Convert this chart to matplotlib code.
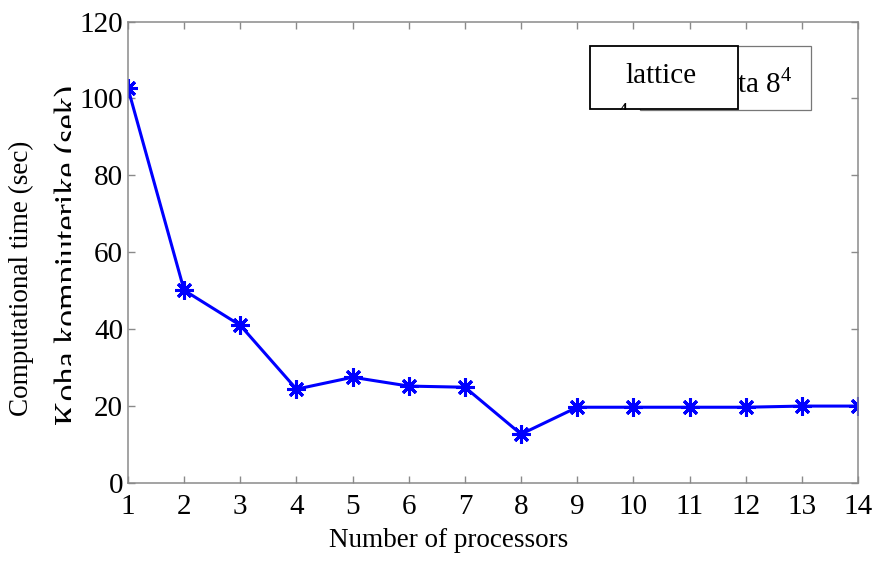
import matplotlib
matplotlib.use("Agg")
import matplotlib.pyplot as plt
from matplotlib.patches import Rectangle

# data
processors = [1, 2, 3, 4, 5, 6, 7, 8, 9, 10, 11, 12, 13, 14]
comp_time = [102.6, 50.1, 41.0, 24.4, 27.5, 25.2, 24.9, 12.7, 19.7, 19.7, 19.7, 19.7, 20.0, 20.0]
y_ticks = [0, 20, 40, 60, 80, 100, 120]

W, H = 874, 564
plt.rcParams["font.family"] = ["Liberation Serif", "DejaVu Serif"]
plt.rcParams["mathtext.fontset"] = "custom"
plt.rcParams["mathtext.rm"] = "Liberation Serif"

fig = plt.figure(figsize=(W / 100, H / 100), dpi=100)


def fx(px):
    return px / W


def fy(py):
    # picture rows are counted from the top
    return 1 - py / H


def white_box(x0, y0, x1, y1, z):
    # plain white patch in picture pixels, used to hide parts of old text
    fig.patches.append(Rectangle((fx(x0), fy(y1)), fx(x1) - fx(x0), fy(y0) - fy(y1),
                                 transform=fig.transFigure, facecolor="white",
                                 edgecolor="none", zorder=z))


ax = fig.add_axes([fx(128), fy(483), fx(858) - fx(128), fy(21.5) - fy(483)])

ax.plot(processors, comp_time, color="#0000ff", lw=2.2,
        marker=(8, 2, 0), markersize=13, markeredgewidth=2.2)

ax.set_xlim(1, 14)
ax.set_ylim(0, 120)
ax.set_xticks(processors)
ax.set_yticks(y_ticks)
for sp in ax.spines.values():
    sp.set_color("#8a8a8a")
    sp.set_linewidth(1.1)
ax.tick_params(direction="in", length=5, width=1, color="#8a8a8a",
               labelsize=21, top=True, right=True)
ax.tick_params(axis="x", pad=8)
ax.tick_params(axis="y", pad=3.5)

# axis labels
fig.text(fx(449), fy(547), "Number of processors", fontsize=19.5,
         ha="center", va="baseline")
fig.text(fx(28), fy(278), "Computational time (sec)", fontsize=19.5,
         rotation=90, rotation_mode="anchor", ha="center", va="baseline")

# older label left under the new one, its right part covered
fig.text(fx(78), fy(255), "Koha kompjuterike (sek)", fontsize=24.5,
         rotation=90, rotation_mode="anchor", ha="center", va="baseline", zorder=-3)
white_box(71, 60, 127, 450, -2)

# legend box underneath
fig.patches.append(Rectangle((fx(640), fy(110)), fx(811) - fx(640), fy(46) - fy(110),
                             transform=fig.transFigure, facecolor="white",
                             edgecolor="#777777", lw=0.9, zorder=10))
fig.text(fx(687), fy(92), r"Rrjeta 8$^{\mathrm{4}}$", fontsize=21,
         ha="left", va="baseline", zorder=11)

# legend box on top
fig.patches.append(Rectangle((fx(590), fy(109)), fx(738) - fx(590), fy(46) - fy(109),
                             transform=fig.transFigure, facecolor="white",
                             edgecolor="black", lw=1.3, zorder=12))
fig.text(fx(625), fy(83), "lattice", fontsize=21, ha="left", va="baseline", zorder=13)
fig.text(fx(610), fy(117), "-4", fontsize=16, ha="left", va="baseline", zorder=13)
white_box(598, 109.8, 639, 126, 14)

fig.savefig("out.png", dpi=100)
